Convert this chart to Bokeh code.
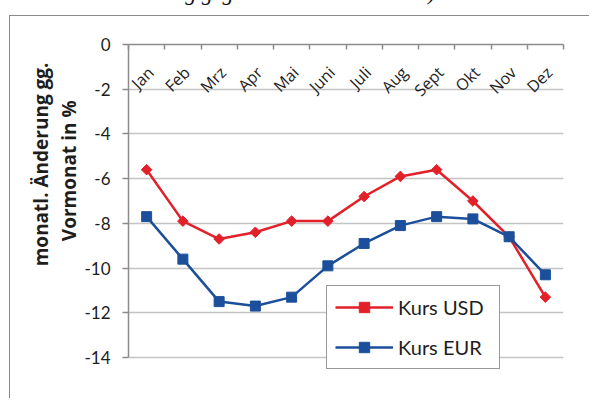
import math
from bokeh.plotting import figure
from bokeh.models import (Range1d, LinearAxis, FixedTicker, Legend, LegendItem,
                          Div, ColumnDataSource, Grid, Title, Spacer)
from bokeh.layouts import column, row
from bokeh.core.properties import value
from bokeh.embed import file_html
from bokeh.resources import INLINE

# ---- data ----
months = ["Jan", "Feb", "Mrz", "Apr", "Mai", "Juni", "Juli", "Aug", "Sept", "Okt", "Nov", "Dez"]
kurs_usd = [-5.6, -7.9, -8.7, -8.4, -7.9, -7.9, -6.8, -5.9, -5.6, -7.0, -8.6, -11.3]
kurs_eur = [-7.7, -9.6, -11.5, -11.7, -11.3, -9.9, -8.9, -8.1, -7.7, -7.8, -8.6, -10.3]
y_ticks = [0, -2, -4, -6, -8, -10, -12, -14]
y_tick_labels = ["0", "-2", "-4", "-6", "-8", "-10", "-12", "-14"]
y_title_1 = "monatl. Änderung gg."
y_title_2 = "Vormonat in %"
caption = "prozentuale Änderung gegenüber dem Vormonat)"

RED = "#E2202A"
BLUE = "#1C4F9B"
AXIS = "#8C8C8C"
GRID = "#C4C4C4"
TXT = "#1E1E1E"

idx = list(range(len(months)))
src = ColumnDataSource(dict(x=idx, m=months, usd=kurs_usd, eur=kurs_eur,
                            base=[max(y_ticks)] * len(months)))

px_per_unit = 313 / 14.0
ymin = min(y_ticks) - 18 / px_per_unit

p = figure(width=580, height=383,
           x_range=Range1d(-0.5, len(months) - 0.5),
           y_range=Range1d(ymin, max(y_ticks)),
           output_backend="svg", toolbar_location=None,
           x_axis_location=None, y_axis_location=None,
           min_border_left=118, min_border_right=27,
           min_border_top=28, min_border_bottom=24)
p.outline_line_color = None
p.background_fill_color = "white"
p.border_fill_color = "white"
p.styles = {"border-left": "1px solid #8A8A8A", "border-top": "1px solid #8A8A8A"}
for r in list(p.center):
    if isinstance(r, Grid):
        r.visible = False

# grid
p.add_layout(Grid(dimension=1, ticker=FixedTicker(ticks=y_ticks),
                  grid_line_color=GRID, grid_line_width=1.5))

# left axis
yax = LinearAxis(ticker=FixedTicker(ticks=y_ticks), bounds=(min(y_ticks), max(y_ticks)),
                 axis_line_color=AXIS, axis_line_width=1.5,
                 major_tick_line_color=AXIS, major_tick_line_width=1.5,
                 major_tick_out=6, major_tick_in=0,
                 minor_tick_out=0, minor_tick_in=0,
                 major_label_standoff=12,
                 major_label_overrides=dict(zip(y_ticks, y_tick_labels)),
                 major_label_text_font="Lato", major_label_text_font_size="17px",
                 major_label_text_color=TXT)
p.add_layout(yax, "left")

# y axis title as two left-side titles
for t, off in ((y_title_2, 56), (y_title_1, 18)):
    p.add_layout(Title(text=t, align="right", offset=off, standoff=0,
                       text_font="Open Sans", text_font_style="bold",
                       text_font_size="19px", text_color=TXT), "left")

# top category axis (ticks between categories)
xax = LinearAxis(ticker=FixedTicker(ticks=[i - 0.5 for i in range(len(months) + 1)]),
                 axis_line_color=AXIS, axis_line_width=1.5,
                 major_tick_line_color=AXIS, major_tick_line_width=1.5,
                 major_tick_in=5, major_tick_out=0,
                 minor_tick_out=0, minor_tick_in=0,
                 major_label_text_font_size="0px")
p.add_layout(xax, "above")

# category labels below top axis line, rotated
p.text(x="x", y="base", text="m", source=src, angle=math.pi / 4,
       text_align="right", text_baseline="middle", x_offset=4, y_offset=25,
       text_font=value("Open Sans"), text_font_size="16px", text_color=TXT)

# series
l1 = p.line("x", "usd", source=src, line_color=RED, line_width=2.5)
s1 = p.scatter("x", "usd", source=src, marker="square", angle=math.pi / 4, size=7.5,
               fill_color=RED, line_color=RED)
l2 = p.line("x", "eur", source=src, line_color=BLUE, line_width=2.5)
s2 = p.scatter("x", "eur", source=src, marker="square", size=10,
               fill_color=BLUE, line_color=BLUE)

legend = Legend(items=[LegendItem(label="Kurs USD", renderers=[l1, s1]),
                       LegendItem(label="Kurs EUR", renderers=[l2, s2])],
                location=(198, 6), padding=8, spacing=14, margin=0,
                label_height=26, glyph_height=26, glyph_width=58, label_width=93,
                label_standoff=5, border_line_color="#333333", border_line_width=1.2,
                background_fill_color="white", background_fill_alpha=1,
                label_text_font="Lato", label_text_font_size="20px", label_text_color=TXT)
p.add_layout(legend)

div = Div(text=('<div style="font: italic 22px \'Liberation Serif\'; white-space: nowrap;'
                ' position: relative; top: -17px; left: -4px; color: #111;">' + caption + '</div>'),
          width=600, height=13, styles={"overflow": "hidden"})

layout = column(div, row(Spacer(width=9, height=383), p), margin=(-8, 0, 0, 0))

open("out.html", "w").write(file_html(layout, INLINE))
